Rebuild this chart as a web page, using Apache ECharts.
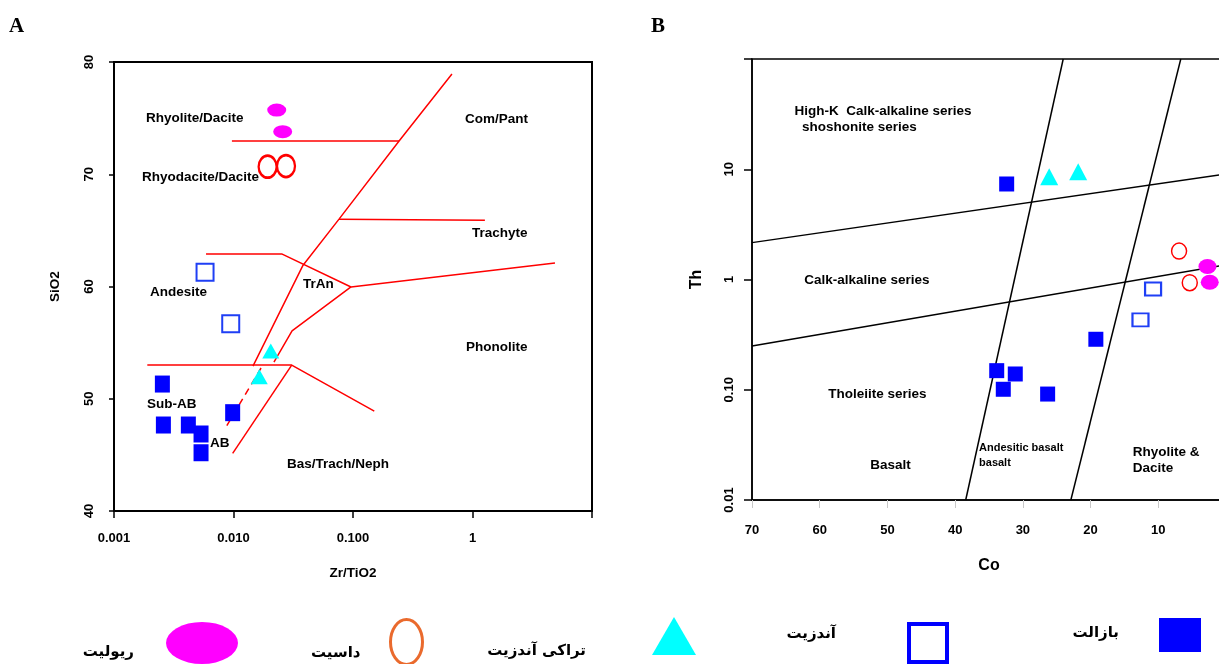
<!DOCTYPE html>
<html>
<head>
<meta charset="utf-8">
<script src="https://cdn.jsdelivr.net/npm/echarts@6/dist/echarts.min.js"></script>
<style>html,body{margin:0;padding:0;background:#fff}#c{width:1219px;height:664px}</style>
</head>
<body>
<div id="c"></div>
<script>
// ---------- Panel A : Zr/TiO2 vs SiO2 ----------
const aXTickLabels = {'-3': '0.001', '-2': '0.010', '-1': '0.100', '0': '1', '1': ''};
const aYTicks = [40, 50, 60, 70, 80];
const aBasalt = [[0.00254, 51.31], [0.00259, 47.66], [0.00419, 47.66], [0.00535, 46.86], [0.00535, 45.19], [0.00984, 48.76]];
const aAndesite = [[0.00578, 61.27], [0.00948, 56.69]];
const aTrachyandesite = [[0.0205, 54.25], [0.01644, 51.96]];
const aDacite = [[0.0193, 70.67], [0.0275, 70.73]];
const aRhyolite = [[0.0230, 75.72], [0.0258, 73.79]];
// boundary lines
const aLineMain = [[0.673, 78.93], [0.243, 72.96], [0.0764, 66.0], [0.0382, 61.9], [0.01455, 52.9]];
const aLineRhyolite = [[0.0097, 72.96], [0.243, 72.96]];
const aLineTrachyte = [[0.0764, 66.0], [1.27, 65.9]];
const aLineAndesiteTop = [[0.00589, 62.9], [0.0253, 62.9], [0.0962, 59.96], [4.90, 62.1]];
const aLineTrAnRight = [[0.0962, 59.96], [0.0309, 56.04], [0.0218, 53.27]];
const aLineBasaltTop = [[0.0019, 53.0], [0.0307, 53.0], [0.1507, 48.9]];
const aLineBasaltLeft = [[0.0307, 53.0], [0.00984, 45.14]];
const aLineDashed = [[0.0170, 52.74], [0.00865, 47.48]];
const aRegionLabels = [
  {name: 'Rhyolite/Dacite', value: [0.001854, 75.01]},
  {name: 'Com/Pant', value: [0.865, 74.92]},
  {name: 'Rhyodacite/Dacite', value: [0.001714, 69.76]},
  {name: 'Trachyte', value: [0.991, 64.77]},
  {name: 'Andesite', value: [0.0020, 59.51]},
  {name: 'TrAn', value: [0.0382, 60.22]},
  {name: 'Phonolite', value: [0.883, 54.61]},
  {name: 'Sub-AB', value: [0.00189, 49.53]},
  {name: 'AB', value: [0.00635, 46.06]},
  {name: 'Bas/Trach/Neph', value: [0.02806, 44.19]}
];

// ---------- Panel B : Co vs Th ----------
const bXTicks = [70, 60, 50, 40, 30, 20, 10];
const bYTickLabels = {'-2': '0.01', '-1': '0.10', '0': '1', '1': '10', '2': ''};
const bBasalt = [[32.39, 7.35], [33.86, 0.149], [31.12, 0.139], [32.89, 0.101], [26.34, 0.0914], [19.22, 0.287]];
const bAndesite = [[10.77, 0.82], [12.63, 0.43]];
const bTrachyandesite = [[26.11, 8.56], [21.83, 9.50]];
const bDacite = [[6.93, 1.81], [5.35, 0.935]];
const bRhyolite = [[2.74, 1.31], [2.40, 0.944]];
const bLineUpper = [[70, 2.16], [0, 9.06]];
const bLineLower = [[70, 0.249], [0, 1.36]];
const bLineLeft = [[24.04, 100], [38.44, 0.01]];
const bLineRight = [[6.68, 100], [22.91, 0.01]];
const bRegionLabels = [
  {name: 'High-K  Calk-alkaline series', value: [63.72, 33.3]},
  {name: ' shoshonite series', value: [63.17, 23.8]},
  {name: 'Calk-alkaline series', value: [62.29, 0.975]},
  {name: 'Tholeiite series', value: [58.75, 0.0910]},
  {name: 'Basalt', value: [52.55, 0.02047]},
  {name: 'Rhyolite &', value: [13.76, 0.02685]},
  {name: 'Dacite', value: [13.76, 0.01939]}
];
const bSmallLabels = [
  {name: 'Andesitic basalt', value: [36.47, 0.0298]},
  {name: 'basalt', value: [36.47, 0.0218]}
];

// legend names
const nRhyolite = 'ریولیت';
const nDacite = 'داسیت';
const nTrachy = 'تراکی آندزیت';
const nAndesite = 'آندزیت';
const nBasalt = 'بازالت';

const ELLIPSE = 'path://M0,10A10,10 0 1,1 20,10A10,10 0 1,1 0,10Z';
const FONT = 'Liberation Sans';
const BLUE = '#0000ff';
const NONE = 'rgba(0,0,0,0)';

function lineSeries(data, xi, color, dashed) {
  return {type: 'line', xAxisIndex: xi, yAxisIndex: xi, data: data, symbol: 'none', silent: true,
    lineStyle: {color: color, width: 1.5, type: dashed ? [7, 5] : 'solid', opacity: 1}, z: 2, animation: false};
}
function pointSeries(name, data, xi, symbol, size, style) {
  return {type: 'scatter', name: name, xAxisIndex: xi, yAxisIndex: xi, data: data, symbol: symbol,
    symbolSize: size, itemStyle: Object.assign({opacity: 1}, style), silent: true, z: 3, animation: false};
}
function labelSeries(data, xi, fontSize) {
  return {type: 'scatter', xAxisIndex: xi, yAxisIndex: xi, data: data, symbol: 'circle', symbolSize: 1,
    itemStyle: {color: NONE, opacity: 1}, silent: true, z: 4, animation: false,
    label: {show: true, position: 'inside', align: 'left', verticalAlign: 'middle', formatter: '{b}',
      color: '#000', opacity: 1, textBorderWidth: 0, fontFamily: FONT, fontWeight: 'bold', fontSize: fontSize}};
}
const labelFont = {color: '#000', fontFamily: FONT, fontWeight: 'bold', fontSize: 13};
const persianFont = {color: '#000', fontFamily: 'DejaVu Sans', fontWeight: 'bold', fontSize: 15};

function legendItem(name, icon, right, top, w, h, itemStyle, gap, lh, below) {
  return {data: [{name: name, icon: icon}], right: right, top: top, orient: 'horizontal', align: 'right',
    itemWidth: w, itemHeight: h, padding: 0, selectedMode: false, symbolKeepAspect: false,
    formatter: below ? '\n{name}' : '{name}\n',
    itemStyle: Object.assign({opacity: 1}, itemStyle),
    textStyle: Object.assign({padding: [0, gap, 0, 0], lineHeight: lh}, persianFont)};
}

const chart = echarts.init(document.getElementById('c'), null, {renderer: 'canvas'});
chart.setOption({
  animation: false,
  backgroundColor: '#fff',
  textStyle: {fontFamily: FONT},
  title: [
    {text: 'A', left: 9, top: 16, padding: 0, textStyle: {fontFamily: 'Liberation Serif', fontWeight: 'bold', fontSize: 21, color: '#000'}},
    {text: 'B', left: 651, top: 16, padding: 0, textStyle: {fontFamily: 'Liberation Serif', fontWeight: 'bold', fontSize: 21, color: '#000'}}
  ],
  grid: [
    {left: 114, top: 62, width: 478, height: 449, show: true, borderColor: '#000', borderWidth: 2, containLabel: false, outerBoundsMode: 'none'},
    {left: 752, top: 59, width: 474, height: 441, show: true, borderColor: '#000', borderWidth: 1.5, containLabel: false, outerBoundsMode: 'none'}
  ],
  xAxis: [
    {gridIndex: 0, type: 'log', logBase: 10, min: 0.001, max: 10,
      name: 'Zr/TiO2', nameLocation: 'middle', nameGap: 55, nameMoveOverlap: false,
      nameTextStyle: {color: '#000', fontFamily: FONT, fontWeight: 'bold', fontSize: 13.5},
      axisLine: {onZero: false, lineStyle: {color: '#000', width: 2}},
      axisTick: {show: true, inside: false, length: 7, lineStyle: {color: '#000', width: 1.5}},
      minorTick: {show: false}, splitLine: {show: false},
      axisLabel: Object.assign({margin: 21, formatter: v => aXTickLabels[String(Math.round(Math.log10(v)))] || ''}, labelFont)},
    {gridIndex: 1, type: 'value', min: 0, max: 70, interval: 10, inverse: true,
      name: 'Co', nameLocation: 'middle', nameGap: 58, nameMoveOverlap: false,
      nameTextStyle: {color: '#000', fontFamily: FONT, fontWeight: 'bold', fontSize: 16},
      axisLine: {onZero: false, lineStyle: {color: '#000', width: 1.5}},
      axisTick: {show: true, inside: false, length: 8, lineStyle: {color: '#c8c8c8', width: 1}},
      splitLine: {show: false},
      axisLabel: Object.assign({margin: 24, formatter: v => (bXTicks.indexOf(v) >= 0 ? String(v) : '')}, labelFont)}
  ],
  yAxis: [
    {gridIndex: 0, type: 'value', min: 40, max: 80, interval: 10,
      name: 'SiO2', nameLocation: 'middle', nameGap: 52, nameRotate: 90, nameMoveOverlap: false,
      nameTextStyle: {color: '#000', fontFamily: FONT, fontWeight: 'bold', fontSize: 13.5},
      axisLine: {onZero: false, lineStyle: {color: '#000', width: 2}},
      axisTick: {show: true, inside: false, length: 5, lineStyle: {color: '#000', width: 1.5}},
      splitLine: {show: false},
      axisLabel: Object.assign({margin: 18, rotate: 90, formatter: v => (aYTicks.indexOf(v) >= 0 ? String(v) : '')}, labelFont)},
    {gridIndex: 1, type: 'log', logBase: 10, min: 0.01, max: 100,
      name: 'Th', nameLocation: 'middle', nameGap: 47, nameRotate: 90, nameMoveOverlap: false,
      nameTextStyle: {color: '#000', fontFamily: FONT, fontWeight: 'bold', fontSize: 16},
      axisLine: {onZero: false, lineStyle: {color: '#000', width: 1.5}},
      axisTick: {show: true, inside: false, length: 8, lineStyle: {color: '#000', width: 1.5}},
      minorTick: {show: false}, splitLine: {show: false}, splitArea: {show: false},
      axisLabel: Object.assign({margin: 16, rotate: 90, formatter: v => bYTickLabels[String(Math.round(Math.log10(v)))] || ''}, labelFont)}
  ],
  legend: [
    legendItem(nRhyolite, ELLIPSE, 981, 622, 72, 42, {color: '#ff00ff', borderWidth: 0}, 27, 18, true),
    legendItem(nDacite, ELLIPSE, 795, 618, 32, 45, {color: NONE, borderColor: '#ea6a2d', borderWidth: 3}, 25, 22, true),
    legendItem(nTrachy, 'triangle', 523, 606, 44, 38, {color: '#00ffff', borderWidth: 0}, 61, 30, true),
    legendItem(nAndesite, 'rect', 270, 622, 38, 38, {color: NONE, borderColor: BLUE, borderWidth: 4}, 68, 18, false),
    legendItem(nBasalt, 'rect', 18, 618, 42, 34, {color: BLUE, borderWidth: 0}, 35, 4, false)
  ],
  series: [
    lineSeries(aLineMain, 0, '#ff0000'),
    lineSeries(aLineRhyolite, 0, '#ff0000'),
    lineSeries(aLineTrachyte, 0, '#ff0000'),
    lineSeries(aLineAndesiteTop, 0, '#ff0000'),
    lineSeries(aLineTrAnRight, 0, '#ff0000'),
    lineSeries(aLineBasaltTop, 0, '#ff0000'),
    lineSeries(aLineBasaltLeft, 0, '#ff0000'),
    lineSeries(aLineDashed, 0, '#ff0000', true),
    lineSeries(bLineUpper, 1, '#000'),
    lineSeries(bLineLower, 1, '#000'),
    lineSeries(bLineLeft, 1, '#000'),
    lineSeries(bLineRight, 1, '#000'),
    pointSeries(nBasalt, aBasalt, 0, 'rect', [15, 17], {color: BLUE}),
    pointSeries(nAndesite, aAndesite, 0, 'rect', [17, 17], {color: NONE, borderColor: '#1f3ff5', borderWidth: 2}),
    pointSeries(nTrachy, aTrachyandesite, 0, 'triangle', [17, 15], {color: '#00ffff'}),
    pointSeries(nDacite, aDacite, 0, ELLIPSE, [18, 22], {color: NONE, borderColor: '#ff0000', borderWidth: 2.5}),
    pointSeries(nRhyolite, aRhyolite, 0, ELLIPSE, [19, 13], {color: '#ff00ff'}),
    pointSeries(nBasalt, bBasalt, 1, 'rect', [15, 15], {color: BLUE}),
    pointSeries(nAndesite, bAndesite, 1, 'rect', [16, 13], {color: NONE, borderColor: '#1f3ff5', borderWidth: 2}),
    pointSeries(nTrachy, bTrachyandesite, 1, 'triangle', [18, 17], {color: '#00ffff'}),
    pointSeries(nDacite, bDacite, 1, ELLIPSE, [15, 16], {color: NONE, borderColor: '#ff0000', borderWidth: 1.5}),
    pointSeries(nRhyolite, bRhyolite, 1, ELLIPSE, [18, 15], {color: '#ff00ff'}),
    labelSeries(aRegionLabels, 0, 13.5),
    labelSeries(bRegionLabels, 1, 13.5),
    labelSeries(bSmallLabels, 1, 11)
  ]
});
</script>
</body>
</html>
